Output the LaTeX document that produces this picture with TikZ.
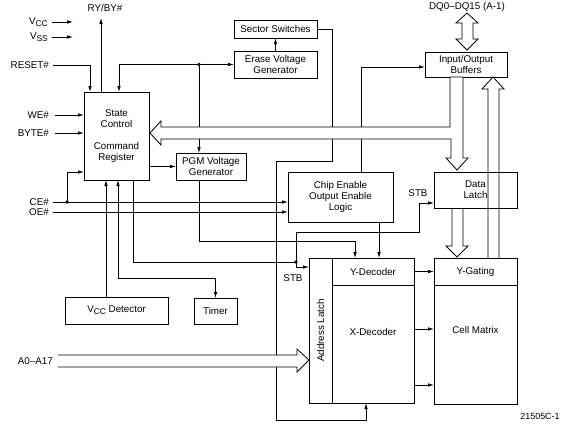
\documentclass[tikz,border=0pt]{standalone}
\usepackage{fontspec}
\setmainfont{Liberation Sans}
\usetikzlibrary{arrows.meta}

\newcommand{\pinsub}[1]{\raisebox{-2.2pt}{\fontsize{8.4}{9}\selectfont #1}}

\tikzset{
  blk/.style={draw, line width=0.8pt, inner sep=0pt, outer sep=0pt, align=center},
  wire/.style={line width=0.8pt},
  sig/.style={line width=0.8pt, -{Latex[length=6pt,width=3.6pt]}},
  bisig/.style={line width=0.8pt, {Latex[length=6pt,width=3.6pt]}-{Latex[length=6pt,width=3.6pt]}},
  bus/.style={draw, line width=0.8pt, fill=white},
  pin/.style={anchor=east, inner sep=0pt},
}

\begin{document}
\begin{tikzpicture}[x=1pt, y=-1pt, font=\fontsize{9.8}{11}\selectfont]
\useasboundingbox (0,0) rectangle (573,442);

\node[blk, minimum width=65, minimum height=88] (sc) at (116.5,136) {State\\Control\\[11pt]Command\\Register};
\node[blk, minimum width=83, minimum height=18] (secsw) at (275.5,29) {Sector Switches};
\node[blk, minimum width=83, minimum height=27] (erase) at (275.5,64.5) {Erase Voltage\\Generator};
\node[blk, minimum width=70, minimum height=27] (pgm) at (211,166.5) {PGM Voltage\\Generator};
\node[blk, minimum width=82, minimum height=25] (io) at (466,64.5) {Input/Output\\Buffers};
\node[blk, minimum width=105, minimum height=50] (ce) at (340.5,197) {Chip Enable\\Output Enable\\Logic};
\node[blk, minimum width=83, minimum height=36] (dl) at (475.5,190) {Data\\Latch};
\node[blk, minimum width=23, minimum height=145] (al) at (320.5,330.5) {\rotatebox{90}{Address Latch}};
\node[blk, minimum width=82, minimum height=27] (yd) at (373,271.5) {Y-Decoder};
\node[blk, minimum width=82, minimum height=118,
      label={[anchor=center, yshift=-47pt]north:X-Decoder}] (xd) at (373,344) {};
\node[blk, minimum width=83, minimum height=27] (yg) at (475.5,271.5) {Y-Gating};
\node[blk, minimum width=83, minimum height=119,
      label={[anchor=center, yshift=-45pt]north:Cell Matrix}] (cm) at (475.5,344.5) {};
\node[blk, minimum width=103, minimum height=27] (vccd) at (116.5,310.5) {V\pinsub{CC} Detector};
\node[blk, minimum width=43, minimum height=26] (timer) at (215.5,311) {Timer};

\node[pin] (vcc) at (48,22) {V\pinsub{CC}};
\node[pin] (vss) at (48,37) {V\pinsub{SS}};
\node[pin] (reset) at (49,65) {RESET\#};
\node[pin] (we) at (49,115) {WE\#};
\node[pin] (byte) at (49,133) {BYTE\#};
\node[pin] (cel) at (49,202) {CE\#};
\node[pin] (oel) at (49,212) {OE\#};
\node[pin] (addr) at (53,361) {A0--A17};
\node (ryby) at (105,8) {RY/BY\#};
\node (dq) at (467,6.5) {DQ0--DQ15 (A-1)};
\node (stbal) at (293,278) {STB};
\node (stbdl) at (418,193) {STB};
\node[font=\fontsize{8.9}{10}\selectfont] (fig) at (540,416) {21505C-1};

\coordinate (jv) at (199,64.5);
\coordinate (jce) at (67,202);
\coordinate (jstb) at (296,262);

\draw[sig] (vcc.east) ++(4,0) -- ++(21,0);
\draw[sig] (vss.east) ++(4,0) -- ++(21,0);
\draw[sig] ([xshift=-15.5]sc.north) -- ++(0,-74);
\draw[sig] (reset.east) ++(4,0) -| ([xshift=-26.5]sc.north);
\draw[sig] (we.east) ++(6,0) -- (sc.west |- we.east);
\draw[sig] (byte.east) ++(6,0) -- (sc.west |- byte.east);
\draw[sig] (cel.east) ++(4,0) -- (ce.west |- cel.east);
\draw[sig] (oel.east) ++(4,0) -- (ce.west |- oel.east);
\draw[sig] (jce) |- ([yshift=-36]sc.west);
\fill (jce) circle[radius=1.8pt];

\draw[sig] (jv) -| ([xshift=2.5]sc.north);
\draw[sig] (jv) -- (erase.west);
\draw[sig] (jv) -- (jv |- pgm.north);
\fill (jv) circle[radius=1.8pt];
\draw[sig] (erase.north) -- (secsw.south);
\draw[sig] (sc.east |- pgm.west) -- (pgm.west);

\draw[sig] (secsw.east) -| (332,161) -| (276,420) -| ([xshift=-7]xd.south);
\draw[sig] ([xshift=20.5]ce.north) |- ([yshift=-2.5]io.west);

\draw[sig] ([xshift=-10.5]vccd.north) -- ++(0,-117);
\draw[bisig] ([xshift=1.5]sc.south) |- ([yshift=20]timer.north) -- (timer.north);
\draw[wire] ([xshift=16.5]sc.south) |- (jstb);
\draw[sig] (jstb) |- (419,232) |- ([yshift=-13]dl.west);
\draw[sig] (jstb) |- ([yshift=63.5]al.west);
\fill (jstb) circle[radius=1.8pt];

\draw[sig] ([xshift=-12]pgm.south) |- ([xshift=-18,yshift=17]yd.north) -- ([xshift=-18]yd.north);
\draw[sig] ([xshift=38.5]ce.south) -- ++(0,36);

\draw[sig] (yd.east) -- (yg.west);
\draw[sig] ([yshift=15]xd.east) -- ++(20,0);
\draw[sig] ([yshift=-41]xd.east) -- ++(20,0);

\draw[bus] (150,133) -- (161,121) -- (161,127) -- (450,127) -- (450,77) -- (463,77)
  -- (463,158) -- (468,158) -- (457,170) -- (446,158) -- (451,158) -- (451,139)
  -- (161,139) -- (161,145) -- cycle;
\draw[wire] (452,208) -- (452,246) -- (446,246) -- (457,257) -- (468,246) -- (463,246) -- (463,208);
\draw[wire] (488,258) -- (488,89) -- (482,89) -- (493,77) -- (504,89) -- (499,89) -- (499,258);
\draw[bus] (467,13) -- (478,23) -- (473,23) -- (473,39) -- (478,39) -- (467,50)
  -- (456,39) -- (462,39) -- (462,23) -- (456,23) -- cycle;
\draw[bus] (58,355) -- (297,355) -- (297,349) -- (309,360) -- (297,372) -- (297,367) -- (58,367);
\end{tikzpicture}
\end{document}
